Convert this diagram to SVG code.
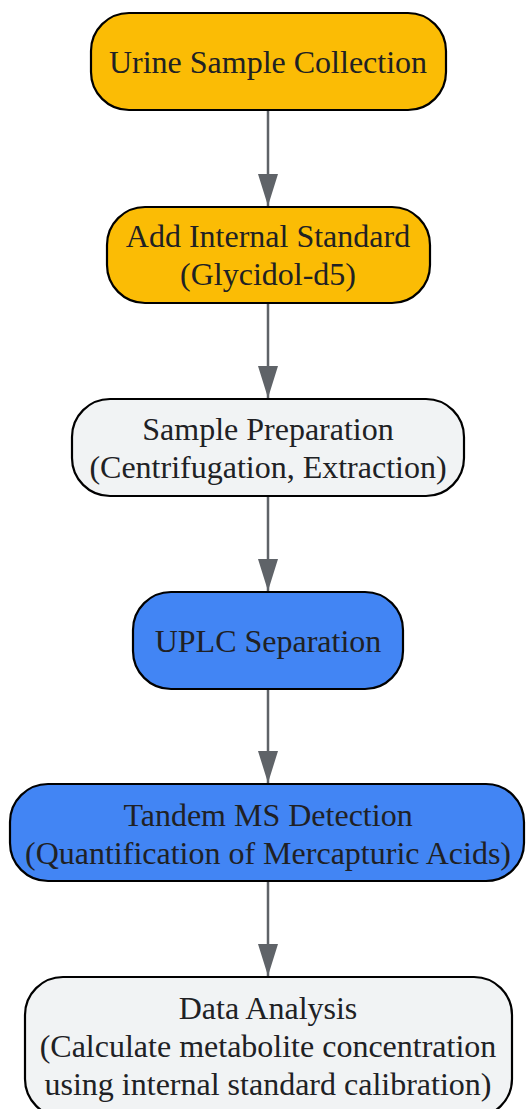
<svg xmlns="http://www.w3.org/2000/svg" width="526" height="1109" viewBox="0 0 526 1109">
<style>
.n rect{stroke:#000;stroke-width:2.2}
.y{fill:#FBBC05}.g{fill:#F1F3F4}.b{fill:#4285F4}
text{font-family:"Liberation Serif","Times New Roman",serif;font-size:32px;fill:#202124;text-anchor:middle}
.e line{stroke:#5F6368;stroke-width:2.5}
</style>
<defs>
<marker id="ah" markerWidth="34" markerHeight="20" refX="32" refY="10" orient="auto" markerUnits="userSpaceOnUse" viewBox="0 0 34 20">
<path d="M0,0 L32,10 L0,20 Z" fill="#5F6368"/>
</marker>
</defs>
<g class="e">
<line x1="268" y1="111" x2="268" y2="206" marker-end="url(#ah)"/>
<line x1="268" y1="304" x2="268" y2="398" marker-end="url(#ah)"/>
<line x1="268" y1="497" x2="268" y2="591" marker-end="url(#ah)"/>
<line x1="268" y1="690" x2="268" y2="783" marker-end="url(#ah)"/>
<line x1="268" y1="882" x2="268" y2="976" marker-end="url(#ah)"/>
</g>
<g id="n1" class="n"><rect class="y" x="91" y="13" width="355" height="97" rx="38"/><text x="268" y="73">Urine Sample Collection</text></g>
<g id="n2" class="n"><rect class="y" x="107" y="207" width="323" height="96" rx="38"/><text x="268" y="247">Add Internal Standard</text><text x="268" y="285">(Glycidol-d5)</text></g>
<g id="n3" class="n"><rect class="g" x="72" y="399" width="392" height="97" rx="38"/><text x="268" y="440">Sample Preparation</text><text x="268" y="478">(Centrifugation, Extraction)</text></g>
<g id="n4" class="n"><rect class="b" x="133" y="592" width="270" height="97" rx="38"/><text x="268" y="652">UPLC Separation</text></g>
<g id="n5" class="n"><rect class="b" x="10" y="784" width="514" height="97" rx="38"/><text x="268" y="826">Tandem MS Detection</text><text x="268" y="864">(Quantification of Mercapturic Acids)</text></g>
<g id="n6" class="n"><rect class="g" x="25" y="977" width="487" height="140" rx="38"/><text x="268" y="1019">Data Analysis</text><text x="268" y="1057">(Calculate metabolite concentration</text><text x="268" y="1095">using internal standard calibration)</text></g>
</svg>
